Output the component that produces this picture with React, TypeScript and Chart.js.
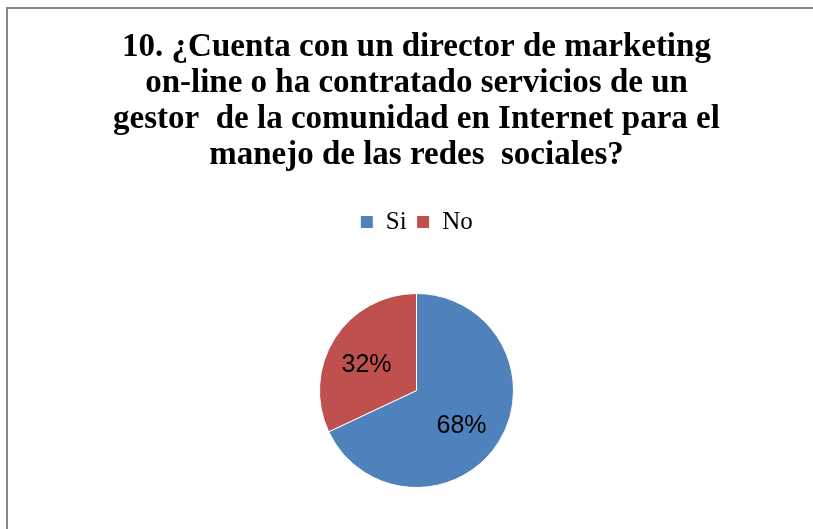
import React, { useEffect, useRef } from "react";
import { Chart, registerables } from "chart.js";

Chart.register(...registerables);

const categories: string[] = ["Si", "No"];
const values: number[] = [68, 32];
const sliceColors: string[] = ["#4F81BD", "#C0504D"];
const titleLines: string[] = [
  "10. ¿Cuenta con un director de marketing",
  "on-line o ha contratado servicios de un",
  "gestor  de la comunidad en Internet para el",
  "manejo de las redes  sociales?",
];

const pctPlugin = {
  id: "pctLabels",
  afterDatasetsDraw(chart: any) {
    const ctx = chart.ctx;
    const meta = chart.getDatasetMeta(0);
    const data = chart.data.datasets[0].data as number[];
    const total = data.reduce((a, b) => a + b, 0);
    ctx.save();
    ctx.font = "25px 'Liberation Sans', Arial, sans-serif";
    ctx.fillStyle = "#000000";
    ctx.textAlign = "center";
    ctx.textBaseline = "middle";
    meta.data.forEach((arc: any, i: number) => {
      const p = arc.getProps(["x", "y", "startAngle", "endAngle", "outerRadius"], true);
      const mid = (p.startAngle + p.endAngle) / 2;
      const r = p.outerRadius * 0.58;
      const label = Math.round((data[i] / total) * 100) + "%";
      ctx.fillText(label, p.x + Math.cos(mid) * r - 2.5, p.y + Math.sin(mid) * r + 5);
    });
    ctx.restore();
  },
};

export default function App() {
  const ref = useRef<HTMLCanvasElement>(null);
  useEffect(() => {
    const chart = new Chart(ref.current as HTMLCanvasElement, {
      type: "pie",
      data: {
        labels: categories,
        datasets: [
          {
            data: values,
            backgroundColor: sliceColors,
            borderColor: "#ffffff",
            borderWidth: 1,
            radius: 97,
          } as any,
        ],
      },
      options: {
        animation: false,
        responsive: false,
        devicePixelRatio: 1,
        layout: { padding: { left: 20, right: 0, top: 0, bottom: 3.5 } },
        plugins: {
          title: {
            display: true,
            text: titleLines,
            color: "#000000",
            font: { family: "'Liberation Serif', 'Times New Roman', serif", size: 33, weight: "bold", lineHeight: 36 / 33 },
            padding: { top: 29.5, bottom: 26 },
          },
          legend: {
            display: true,
            position: "top",
            labels: {
              color: "#000000",
              boxWidth: 13,
              boxHeight: 13,
              padding: 10,
              font: { family: "'Liberation Serif', 'Times New Roman', serif", size: 25 },
            },
          },
          tooltip: { enabled: false },
        },
      },
      plugins: [pctPlugin],
    });
    return () => chart.destroy();
  }, []);
  return (
    <div style={{ position: "fixed", left: 0, top: 0, width: 813, height: 529, overflow: "hidden", background: "#ffffff" }}>
      <div
        style={{
          position: "absolute",
          left: 6,
          top: 7,
          width: 900,
          height: 600,
          borderLeft: "2px solid #878787",
          borderTop: "2px solid #878787",
        }}
      />
      <canvas ref={ref} width={813} height={540} style={{ position: "absolute", left: 0, top: 0, width: 813, height: 540 }} />
    </div>
  );
}
